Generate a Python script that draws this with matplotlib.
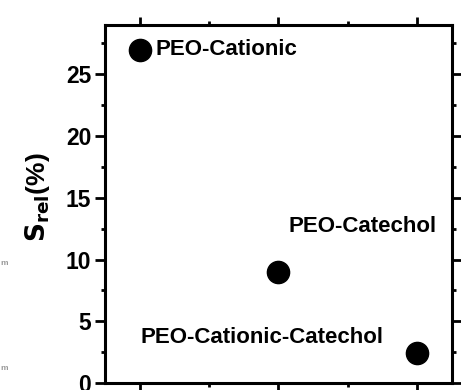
import matplotlib.pyplot as plt
from matplotlib.ticker import MultipleLocator

plt.rcParams['font.family'] = ['Liberation Sans', 'DejaVu Sans']
plt.rcParams['font.weight'] = 'bold'

samples = ['PEO-Cationic', 'PEO-Catechol', 'PEO-Cationic-Catechol']
x_pos = [1, 2, 3]
s_rel = [27.0, 9.0, 2.4]
# label anchors (left edge, vertical centre) in data units
label_x = [1.11, 2.07, 1.005]
label_y = [27.0, 12.7, 3.65]

fig = plt.figure(figsize=(4.61, 3.90), dpi=100)
ax = fig.add_axes([0.228, 0.018, 0.752, 0.918])

ax.plot(x_pos, s_rel, 'o', color='black', markersize=16, linestyle='none')
for name, tx, ty in zip(samples, label_x, label_y):
    ax.text(tx, ty, name, fontsize=16, fontweight='bold', va='center', ha='left')

ax.set_xlim(0.75, 3.25)
ax.set_ylim(0, 29)
ax.xaxis.set_major_locator(MultipleLocator(1))
ax.xaxis.set_minor_locator(MultipleLocator(0.5))
ax.yaxis.set_major_locator(MultipleLocator(5))
ax.yaxis.set_minor_locator(MultipleLocator(2.5))
ax.set_xticklabels([])
ax.tick_params(which='both', direction='out', top=True, right=True, width=2)
ax.tick_params(which='major', length=6)
ax.tick_params(which='minor', length=3)
ax.tick_params(axis='y', which='major', length=7, labelsize=16.5, pad=3)
ax.tick_params(axis='x', labelbottom=False)
for lab in ax.get_yticklabels():
    lab.set_fontweight('bold')
for sp in ax.spines.values():
    sp.set_linewidth(2.2)

ax.set_ylabel(r'$\mathbf{S_{rel}}$(%)', fontsize=19, fontweight='bold')
ax.yaxis.set_label_coords(-0.152, 0.52)

# faint cropped remnants at the left edge
fig.text(0.0, 0.325, 'm', fontsize=6, color='#999999', va='center')
fig.text(0.0, 0.055, 'm', fontsize=6, color='#999999', va='center')

fig.savefig('out.png', dpi=100)
